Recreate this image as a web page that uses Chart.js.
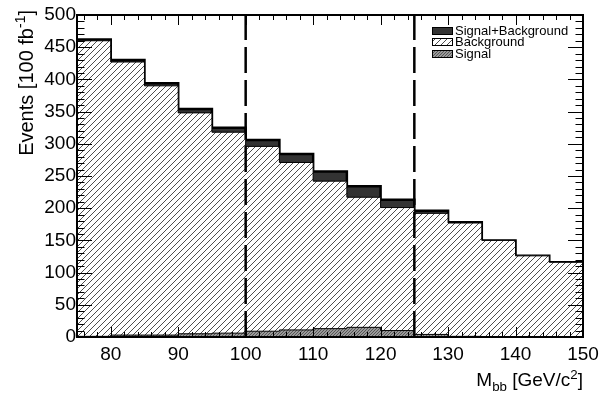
<!DOCTYPE html>
<html>
<head>
<meta charset="utf-8">
<script src="https://cdn.jsdelivr.net/npm/chart.js@4"></script>
<style>
  html, body { margin: 0; padding: 0; background: #fff; }
  #wrap { width: 609px; height: 396px; }
</style>
</head>
<body>
<div id="wrap"><canvas id="mbb"></canvas></div>
<script>
// histogram bins (GeV/c^2)
const binEdges = [75, 80, 85, 90, 95, 100, 105, 110, 115, 120, 125, 130, 135, 140, 145, 150];
const sigPlusBkg = [462, 430, 394, 354, 325, 306, 284, 257, 234, 213, 196, 178, 150, 126, 116];
const background = [460, 427, 390, 348, 318, 296, 271, 242, 217, 201, 192, 177, 150, 126, 116];
const signal = [1, 3, 3, 5, 6, 9, 11, 13, 15, 10, 4, 1, 0.5, 0.3, 0.2];
const massWindow = [100, 125];
const xTicks = [80, 90, 100, 110, 120, 130, 140, 150];
const yTicks = [0, 50, 100, 150, 200, 250, 300, 350, 400, 450, 500];
const legendLabels = ["Signal+Background", "Background", "Signal"];

const FONT = "'Liberation Sans', Arial, Helvetica, sans-serif";

// stepped histogram points: left edge of every bin + closing edge
const toSteps = (vals) => {
  const pts = vals.map((v, i) => ({ x: binEdges[i], y: v }));
  pts.push({ x: binEdges[binEdges.length - 1], y: vals[vals.length - 1] });
  return pts;
};

const hatch = (bg, fg, size, lw) => {
  const c = document.createElement("canvas");
  c.width = c.height = size;
  const g = c.getContext("2d");
  g.fillStyle = bg;
  g.fillRect(0, 0, size, size);
  g.strokeStyle = fg;
  g.lineWidth = lw;
  g.beginPath();
  [-size, 0, size].forEach((k) => {
    g.moveTo(k, size);
    g.lineTo(k + size, 0);
  });
  g.stroke();
  return g.createPattern(c, "repeat");
};

const bkgPattern = hatch("#ffffff", "#3a3a3a", 6, 0.9);
const sigPattern = hatch("#9a9a9a", "#444444", 3, 0.8);
const sbColor = "#333333";

// draw a run of text pieces (normal / sub / sup), right aligned at x
const richText = (ctx, parts, x, y, size) => {
  const widths = parts.map((p) => {
    ctx.font = (p.small ? size * 0.7 : size) + "px " + FONT;
    return ctx.measureText(p.t).width;
  });
  let cx = x - widths.reduce((a, b) => a + b, 0);
  parts.forEach((p, i) => {
    ctx.font = (p.small ? size * 0.7 : size) + "px " + FONT;
    ctx.fillText(p.t, cx, y + (p.dy || 0));
    cx += widths[i];
  });
};

const frameAndExtras = {
  id: "frameAndExtras",
  afterDatasetsDraw(chart) {
    const { ctx, chartArea: a, scales } = chart;
    const xs = scales.x, ys = scales.y;
    ctx.save();

    // mass window cut lines
    ctx.strokeStyle = "#000";
    ctx.lineWidth = 2.5;
    ctx.setLineDash([26, 7]);
    massWindow.forEach((m) => {
      const px = xs.getPixelForValue(m);
      ctx.beginPath();
      ctx.moveTo(px, a.bottom);
      ctx.lineTo(px, a.top);
      ctx.stroke();
    });
    ctx.setLineDash([]);

    // inward ticks on all four sides
    ctx.lineWidth = 1;
    ctx.strokeStyle = "#000";
    ctx.beginPath();
    for (let v = 0; v <= 500; v += 10) {
      const py = Math.round(ys.getPixelForValue(v)) + 0.5;
      const len = v % 50 === 0 ? 15 : 7.5;
      ctx.moveTo(a.left, py); ctx.lineTo(a.left + len, py);
      ctx.moveTo(a.right, py); ctx.lineTo(a.right - len, py);
    }
    for (let v = 76; v <= 150; v += 2) {
      const px = Math.round(xs.getPixelForValue(v)) + 0.5;
      const len = v % 10 === 0 ? 10 : 5;
      ctx.moveTo(px, a.bottom); ctx.lineTo(px, a.bottom - len);
      ctx.moveTo(px, a.top); ctx.lineTo(px, a.top + len);
    }
    ctx.stroke();

    // frame
    ctx.lineWidth = 2;
    ctx.strokeRect(a.left, a.top, a.right - a.left, a.bottom - a.top);

    // legend
    const fills = [sbColor, bkgPattern, sigPattern];
    const boxY = [27, 38, 50];
    ctx.font = "13px " + FONT;
    ctx.textBaseline = "middle";
    ctx.fillStyle = "#000";
    legendLabels.forEach((lab, i) => {
      ctx.fillStyle = fills[i];
      ctx.fillRect(432, boxY[i], 20, 7);
      ctx.lineWidth = 1;
      ctx.strokeStyle = "#000";
      ctx.strokeRect(432.5, boxY[i] + 0.5, 20, 7);
      ctx.fillStyle = "#000";
      ctx.fillText(lab, 455, boxY[i] + 4);
    });

    // axis titles
    ctx.textBaseline = "alphabetic";
    ctx.textAlign = "left";
    richText(ctx, [
      { t: "M" },
      { t: "bb", small: true, dy: 5 },
      { t: " [GeV/c" },
      { t: "2", small: true, dy: -7 },
      { t: "]" },
    ], a.right, 386, 19);

    ctx.translate(33, 10);
    ctx.rotate(-Math.PI / 2);
    richText(ctx, [
      { t: "Events [100 fb" },
      { t: "-1", small: true, dy: -8 },
      { t: "]" },
    ], 0, 0, 20);
    ctx.restore();
  },
};

const histo = (label, vals, fill, border, width, order) => ({
  label,
  data: toSteps(vals),
  stepped: true,
  fill: "origin",
  backgroundColor: fill,
  borderColor: border,
  borderWidth: width,
  pointRadius: 0,
  order,
});

new Chart(document.getElementById("mbb"), {
  type: "line",
  data: {
    datasets: [
      histo("Signal", signal, sigPattern, "#000", 1, 0),
      histo("Background", background, bkgPattern, "#000", 1, 1),
      histo("Signal+Background", sigPlusBkg, sbColor, "#000", 2.5, 2),
    ],
  },
  options: {
    responsive: true,
    maintainAspectRatio: false,
    animation: false,
    layout: { padding: { top: 15, right: 26, left: 0, bottom: 0 } },
    plugins: { legend: { display: false }, tooltip: { enabled: false } },
    scales: {
      x: {
        type: "linear",
        min: 75,
        max: 150,
        grid: { display: false, drawTicks: false },
        border: { display: false },
        afterBuildTicks: (s) => { s.ticks = xTicks.map((v) => ({ value: v })); },
        afterFit: (s) => { s.height = 59; },
        ticks: {
          padding: 6,
          maxRotation: 0,
          autoSkip: false,
          color: "#000",
          font: { family: FONT, size: 19 },
        },
      },
      y: {
        min: 0,
        max: 500,
        grid: { display: false, drawTicks: false },
        border: { display: false },
        afterBuildTicks: (s) => { s.ticks = yTicks.map((v) => ({ value: v })); },
        afterFit: (s) => { s.width = 77; },
        ticks: {
          padding: 1,
          color: "#000",
          font: { family: FONT, size: 19 },
        },
      },
    },
  },
  plugins: [frameAndExtras],
});
</script>
</body>
</html>
